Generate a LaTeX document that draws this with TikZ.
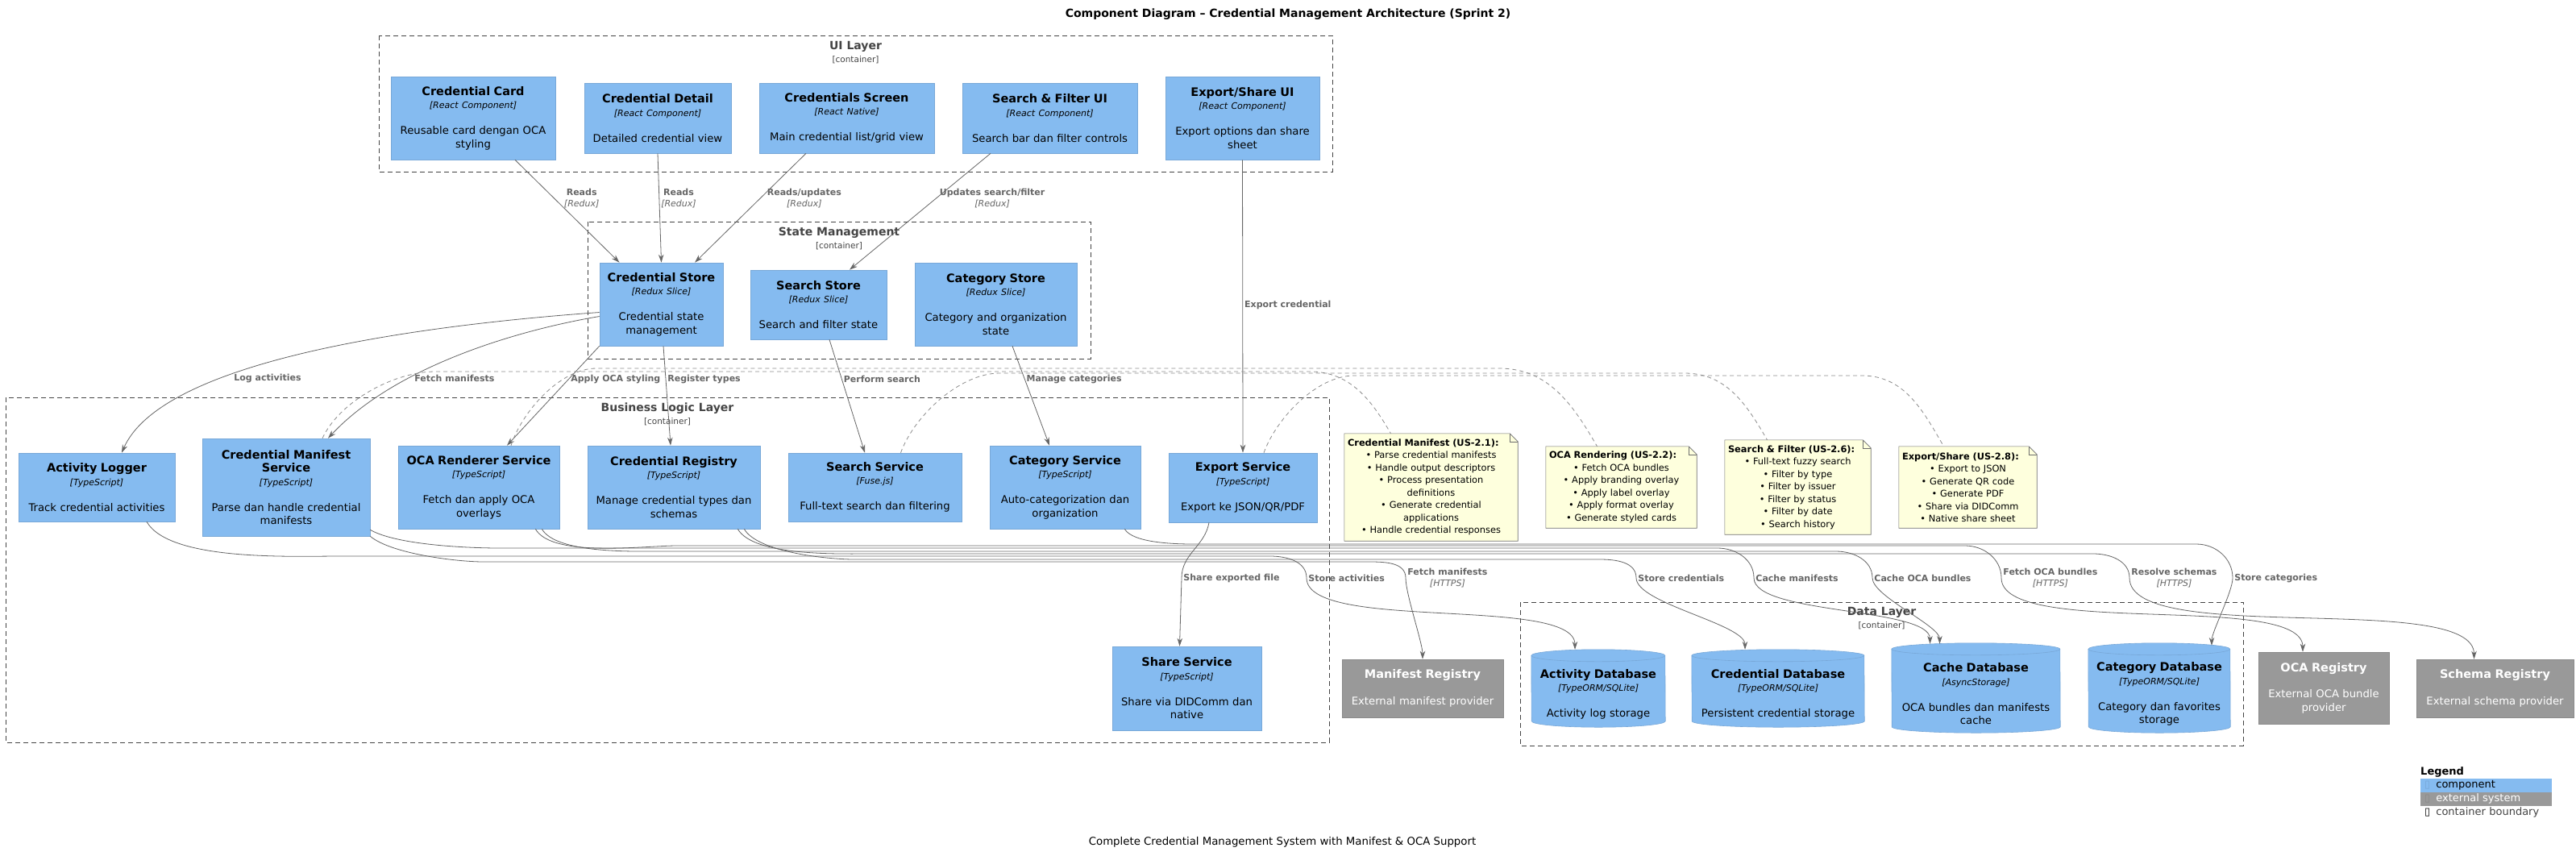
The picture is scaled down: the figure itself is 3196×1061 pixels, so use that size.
\documentclass[tikz,border=0pt]{standalone}
\usepackage{fontspec}
\setmainfont{DejaVu Sans}
\usetikzlibrary{positioning,arrows.meta}

\definecolor{compfill}{HTML}{85BBF0}
\definecolor{compline}{HTML}{78A8D8}
\definecolor{extfill}{HTML}{999999}
\definecolor{extline}{HTML}{8A8A8A}
\definecolor{notefill}{HTML}{FEFFDD}
\definecolor{noteline}{HTML}{6E6E6E}
\definecolor{relcol}{HTML}{666666}
\definecolor{boundcol}{HTML}{444444}
\definecolor{linkcol}{HTML}{8C8C8C}

\pgfdeclarelayer{back}
\pgfsetlayers{back,main}

\newcommand{\ttl}[1]{{\bfseries\fontsize{14.5}{16.5}\selectfont #1}}
\newcommand{\tch}[1]{{\itshape\fontsize{11}{16.5}\selectfont [#1]}}
\newcommand{\rtch}[1]{{\mdseries\itshape [#1]}}
% cylinder round a database node (#2 = half width)
\newcommand{\dbcyl}[2]{%
  \draw[compline, fill=compfill, line width=0.6pt] ([yshift=7.5pt]#1.north west)
    arc[start angle=180, end angle=0, x radius=#2pt, y radius=7.5pt]
    -- ([yshift=7.5pt]#1.south east)
    arc[start angle=0, end angle=-180, x radius=#2pt, y radius=7.5pt] -- cycle;
  \draw[compline, line width=0.6pt] ([yshift=7.5pt]#1.north west)
    arc[start angle=180, end angle=360, x radius=#2pt, y radius=7.5pt];
}
% note with folded corner
\newcommand{\notefold}[1]{%
  \draw[noteline, fill=notefill, line width=0.6pt] (#1.south west) -- (#1.north west)
    -- ([xshift=-10pt]#1.north east) -- ([yshift=-10pt]#1.north east) -- (#1.south east) -- cycle;
  \draw[noteline, line width=0.6pt] ([xshift=-10pt]#1.north east) |- ([yshift=-10pt]#1.north east);
}

\tikzset{
  boxsize/.code 2 args={\pgfmathsetmacro\boxtw{#1-8}%
    \edef\boxnext{\noexpand\tikzset{minimum width=#1pt, minimum height=#2pt, text width=\boxtw pt}}\boxnext},
  compbox/.style={draw=compline, fill=compfill, line width=0.6pt, align=center, inner sep=2pt,
    font=\fontsize{13.2}{16.5}\selectfont},
  extbox/.style={draw=extline, fill=extfill, text=white, line width=0.6pt, align=center, inner sep=2pt,
    font=\fontsize{13.2}{16.5}\selectfont},
  dbbox/.style={align=center, inner sep=2pt, font=\fontsize{13.2}{16.5}\selectfont},
  notebox/.style={align=center, inner sep=4pt, font=\fontsize{11.4}{15.5}\selectfont},
  boundbox/.style={draw=boundcol, line width=0.9pt, dash pattern=on 6pt off 4pt},
  boundlabel/.style={text=boundcol, align=center, font=\bfseries\fontsize{14}{16}\selectfont},
  relline/.style={draw=relcol, line width=0.8pt, -{Stealth[length=10pt,width=6.5pt]}},
  rellabel/.style={text=relcol, align=center, inner sep=2pt, font=\bfseries\fontsize{11}{14}\selectfont},
  notelink/.style={draw=linkcol, line width=0.8pt, dash pattern=on 5pt off 4pt},
  legrow/.style={minimum width=163pt, minimum height=16.5pt, text width=153pt, inner xsep=5pt,
    inner ysep=0pt, align=left, font=\fontsize{13}{15}\selectfont},
}

\begin{document}
\begin{tikzpicture}[x=1pt, y=-1pt]
    \useasboundingbox (0,0) rectangle (3196,1061);
    \begin{pgfonlayer}{back}
        \fill[white] (0,0) rectangle (3196,1061);
    \end{pgfonlayer}

    % Title and caption
    \node[font=\bfseries\fontsize{14}{16}\selectfont] (title) at (1598,18)
        {Component Diagram – Credential Management Architecture (Sprint 2)};
    \node[font=\fontsize{13.3}{16}\selectfont] (caption) at (1591,1045)
        {Complete Credential Management System with Manifest \& OCA Support};

    % Boundaries
    \draw[boundbox] (470,44) rectangle (1653,213);
    \node[boundlabel] (uil) at (1061.5,65) {UI Layer\\{\mdseries\fontsize{10.5}{16}\selectfont [container]}};
    \draw[boundbox] (729,275) rectangle (1353,445);
    \node[boundlabel] (sml) at (1041,296) {State Management\\{\mdseries\fontsize{10.5}{16}\selectfont [container]}};
    \draw[boundbox] (7,493) rectangle (1649,921);
    \node[boundlabel] (bll) at (828,514) {Business Logic Layer\\{\mdseries\fontsize{10.5}{16}\selectfont [container]}};
    \draw[boundbox] (1886,747) rectangle (2783,925);
    \node[boundlabel] (dll) at (2334.5,767) {Data Layer\\{\mdseries\fontsize{10.5}{16}\selectfont [container]}};

    % UI Layer
    \node[compbox, boxsize={204}{103}] (cc) at (587,146.5)
        {\ttl{Credential Card}\\\tch{React Component}\\[15.5pt]Reusable card dengan OCA\\styling};
    \node[compbox, boxsize={182}{87}] (cd) at (816,146.5)
        {\ttl{Credential Detail}\\\tch{React Component}\\[15.5pt]Detailed credential view};
    \node[compbox, boxsize={217}{87}] (cs) at (1050.5,146.5)
        {\ttl{Credentials Screen}\\\tch{React Native}\\[15.5pt]Main credential list/grid view};
    \node[compbox, boxsize={217}{87}] (sf) at (1302.5,146.5)
        {\ttl{Search \& Filter UI}\\\tch{React Component}\\[15.5pt]Search bar dan filter controls};
    \node[compbox, boxsize={191}{103}] (eu) at (1541.5,146.5)
        {\ttl{Export/Share UI}\\\tch{React Component}\\[15.5pt]Export options dan share\\sheet};

    % State Management
    \node[compbox, boxsize={153}{103}] (cst) at (820.5,377.5)
        {\ttl{Credential Store}\\\tch{Redux Slice}\\[15.5pt]Credential state\\management};
    \node[compbox, boxsize={169}{86}] (sst) at (1015.5,378)
        {\ttl{Search Store}\\\tch{Redux Slice}\\[15.5pt]Search and filter state};
    \node[compbox, boxsize={201}{103}] (cat) at (1235.5,377.5)
        {\ttl{Category Store}\\\tch{Redux Slice}\\[15.5pt]Category and organization\\state};

    % Business Logic Layer
    \node[compbox, boxsize={194}{85}] (al) at (120,604.5)
        {\ttl{Activity Logger}\\\tch{TypeScript}\\[15.5pt]Track credential activities};
    \node[compbox, boxsize={208}{121}] (cms) at (355,604.5)
        {\ttl{Credential Manifest}\\\ttl{Service}\\\tch{TypeScript}\\[15.5pt]Parse dan handle credential\\manifests};
    \node[compbox, boxsize={200}{103}] (oca) at (594,604.5)
        {\ttl{OCA Renderer Service}\\\tch{TypeScript}\\[15.5pt]Fetch dan apply OCA\\overlays};
    \node[compbox, boxsize={214}{103}] (cr) at (836,604.5)
        {\ttl{Credential Registry}\\\tch{TypeScript}\\[15.5pt]Manage credential types dan\\schemas};
    \node[compbox, boxsize={215}{85}] (ss) at (1085.5,604.5)
        {\ttl{Search Service}\\\tch{Fuse.js}\\[15.5pt]Full-text search dan filtering};
    \node[compbox, boxsize={187}{103}] (cats) at (1321.5,604.5)
        {\ttl{Category Service}\\\tch{TypeScript}\\[15.5pt]Auto-categorization dan\\organization};
    \node[compbox, boxsize={184}{86}] (exps) at (1542,605)
        {\ttl{Export Service}\\\tch{TypeScript}\\[15.5pt]Export ke JSON/QR/PDF};
    \node[compbox, boxsize={185}{104}] (shs) at (1472.5,854)
        {\ttl{Share Service}\\\tch{TypeScript}\\[15.5pt]Share via DIDComm dan\\native};

    % Data Layer
    \node[dbbox, boxsize={166}{81}] (adb) at (1983,861.5)
        {\ttl{Activity Database}\\\tch{TypeORM/SQLite}\\[15.5pt]Activity log storage};
    \node[dbbox, boxsize={214}{81}] (cdb) at (2206,861.5)
        {\ttl{Credential Database}\\\tch{TypeORM/SQLite}\\[15.5pt]Persistent credential storage};
    \node[dbbox, boxsize={209}{96}] (kdb) at (2451.5,861)
        {\ttl{Cache Database}\\\tch{AsyncStorage}\\[15.5pt]OCA bundles dan manifests\\cache};
    \node[dbbox, boxsize={176}{96}] (gdb) at (2679,861)
        {\ttl{Category Database}\\\tch{TypeORM/SQLite}\\[15.5pt]Category dan favorites\\storage};

    % External systems
    \node[extbox, boxsize={200}{72}] (mr) at (1765,854)
        {\ttl{Manifest Registry}\\[16pt]External manifest provider};
    \node[extbox, boxsize={162}{89}] (ocr) at (2883,853.5)
        {\ttl{OCA Registry}\\[16pt]External OCA bundle\\provider};
    \node[extbox, boxsize={195}{72}] (scr) at (3095.5,854)
        {\ttl{Schema Registry}\\[16pt]External schema provider};

    % Notes
    \node[notebox, boxsize={215}{133}] (n1) at (1775.5,604.5)
        {\makebox[\linewidth][l]{\bfseries Credential Manifest (US-2.1):}\\• Parse credential manifests\\• Handle output descriptors\\• Process presentation\\definitions\\• Generate credential\\applications\\• Handle credential responses};
    \node[notebox, boxsize={187}{101}] (n2) at (2011.5,604.5)
        {\makebox[\linewidth][l]{\bfseries OCA Rendering (US-2.2):}\\• Fetch OCA bundles\\• Apply branding overlay\\• Apply label overlay\\• Apply format overlay\\• Generate styled cards};
    \node[notebox, boxsize={181}{117}] (n3) at (2230.5,604.5)
        {\makebox[\linewidth][l]{\bfseries Search \& Filter (US-2.6):}\\• Full-text fuzzy search\\• Filter by type\\• Filter by issuer\\• Filter by status\\• Filter by date\\• Search history};
    \node[notebox, boxsize={171}{101}] (n4) at (2441.5,604.5)
        {\makebox[\linewidth][l]{\bfseries Export/Share (US-2.8):}\\• Export to JSON\\• Generate QR code\\• Generate PDF\\• Share via DIDComm\\• Native share sheet};

    \begin{pgfonlayer}{back}
        \dbcyl{adb}{83}
        \dbcyl{cdb}{107}
        \dbcyl{kdb}{104.5}
        \dbcyl{gdb}{88}
        \notefold{n1}
        \notefold{n2}
        \notefold{n3}
        \notefold{n4}
    \end{pgfonlayer}

    % UI to state
    \draw[relline] ([xshift=52pt]cc.south) -- ([xshift=-52pt]cst.north)
        node[rellabel, right=10pt, pos=0.375] {Reads\\\rtch{Redux}};
    \draw[relline] (cd.south) -- (cst.north)
        node[rellabel, right, pos=0.41] {Reads\\\rtch{Redux}};
    \draw[relline] ([xshift=-50.5pt]cs.south) -- ([xshift=41.5pt]cst.north)
        node[rellabel, right=6pt, pos=0.41] {Reads/updates\\\rtch{Redux}};
    \draw[relline] ([xshift=-73.5pt]sf.south) -- ([xshift=38.5pt]sst.north)
        node[rellabel, right=2pt, pos=0.386] {Updates search/filter\\\rtch{Redux}};
    \draw[relline] (eu.south) -- (exps.north)
        node[rellabel, right, pos=0.497] {Export credential};

    % State to services
    \draw[relline] ([yshift=-10pt]cst.west) .. controls (500,405) and (200,450) .. ([xshift=31pt]al.north)
        node[rellabel, right=12pt, pos=0.66] {Log activities};
    \draw[relline] ([yshift=-15pt]cst.west) .. controls (640,410) and (490,455) .. ([xshift=52pt]cms.north)
        node[rellabel, right=5pt, pos=0.67] {Fetch manifests};
    \draw[relline] (cst.south west) -- ([xshift=35pt]oca.north)
        node[rellabel, right, pos=0.33] {Apply OCA styling};
    \draw[relline] ([xshift=2.5pt]cst.south) -- ([xshift=-4pt]cr.north)
        node[rellabel, right, pos=0.33] {Register types};
    \draw[relline] ([xshift=13.5pt]sst.south) -- ([xshift=-12.5pt]ss.north)
        node[rellabel, right, pos=0.35] {Perform search};
    \draw[relline] ([xshift=20.5pt]cat.south) -- ([xshift=-19.5pt]cats.north)
        node[rellabel, right, pos=0.33] {Manage categories};

    % Services to data and external systems
    \draw[relline] ([xshift=-42pt]exps.south) to[out=-100,in=90] (1466,717)
        node[rellabel, right] {Share exported file} -- ([xshift=-9pt]shs.north);
    \draw[relline] ([xshift=62pt]al.south) to[out=-60,in=180,looseness=0.6] (420,690) -- (1576,690)
        to[out=0,in=90] (1621,717) node[rellabel, right] {Store activities}
        to[out=-90,in=90,looseness=0.5] ([xshift=-29pt,yshift=15pt]adb.north);
    \draw[relline] (cms.south east) to[out=-40,in=180,looseness=0.6] (600,697) -- (1699,697)
        to[out=0,in=90] (1744,717) node[rellabel, right] {Fetch manifests\\\rtch{HTTPS}}
        to[out=-90,in=90,looseness=0.5] (mr.north);
    \draw[relline] ([xshift=-20pt]cr.south east) to[out=-60,in=180,looseness=0.6] (1060,694) -- (1985,694)
        to[out=0,in=90] (2030,717) node[rellabel, right] {Store credentials}
        to[out=-90,in=90,looseness=0.5] ([xshift=-41pt,yshift=15pt]cdb.north);
    \draw[relline] ([yshift=8pt]cms.south east) to[out=-30,in=180,looseness=0.6] (620,680) -- (2131,680)
        to[out=0,in=90] (2176,717) node[rellabel, right] {Cache manifests}
        to[out=-90,in=90,looseness=0.5] ([xshift=-57pt,yshift=14pt]kdb.north);
    \draw[relline] ([xshift=-22pt]oca.south east) to[out=-60,in=180,looseness=0.6] (820,684) -- (2278,684)
        to[out=0,in=90] (2323,717) node[rellabel, right] {Cache OCA bundles}
        to[out=-90,in=90,looseness=0.5] ([xshift=-45pt,yshift=14pt]kdb.north);
    \draw[relline] ([xshift=-30pt]oca.south east) to[out=-60,in=180,looseness=0.6] (840,677) -- (2438,677)
        to[out=0,in=90] (2483,717) node[rellabel, right] {Fetch OCA bundles\\\rtch{HTTPS}}
        to[out=-90,in=90,looseness=0.5] ([xshift=-26pt]ocr.north);
    \draw[relline] ([xshift=-28pt]cr.south east) to[out=-60,in=180,looseness=0.6] (1080,687) -- (2597,687)
        to[out=0,in=90] (2642,717) node[rellabel, right] {Resolve schemas\\\rtch{HTTPS}}
        to[out=-90,in=90,looseness=0.5] ([xshift=-26pt]scr.north);
    \draw[relline] ([xshift=-20pt]cats.south east) to[out=-60,in=180,looseness=0.6] (1480,675) -- (2725,675)
        to[out=0,in=90] (2770,717) node[rellabel, right] {Store categories}
        to[out=-90,in=90,looseness=0.5] ([xshift=65pt,yshift=12pt]gdb.north);

    % Note links
    \draw[notelink] ([xshift=45pt]cms.north) to[out=65,in=180,looseness=0.8] (540,461) -- (1625,461)
        to[out=0,in=120] ([xshift=-50pt]n1.north);
    \draw[notelink] ([xshift=40pt]oca.north) to[out=72,in=180,looseness=0.8] (740,457) -- (1860,457)
        to[out=0,in=120] ([xshift=-30pt]n2.north);
    \draw[notelink] ([xshift=32pt]ss.north) to[out=70,in=180,looseness=0.8] (1240,463) -- (2090,463)
        to[out=0,in=120] ([xshift=-38pt]n3.north);
    \draw[notelink] ([xshift=26pt]exps.north) to[out=70,in=180,looseness=0.8] (1680,466) -- (2310,466)
        to[out=0,in=120] ([xshift=-30pt]n4.north);

    % Legend
    \node[anchor=west, inner sep=0pt, font=\bfseries\fontsize{13}{15}\selectfont] (lgt) at (3003,958) {Legend};
    \node[legrow, fill=compfill, anchor=north west] (lgc) at (3003,966)
        {\textcolor{compline}{▯}\hspace{7pt}component};
    \node[legrow, fill=extfill, text=white, anchor=north west] (lge) at (lgc.south west)
        {\textcolor{extline}{▯}\hspace{7pt}external system};
    \node[legrow, text=boundcol, anchor=north west] (lgb) at (lge.south west)
        {\textcolor{black}{▯}\hspace{7pt}container boundary};
\end{tikzpicture}
\end{document}
